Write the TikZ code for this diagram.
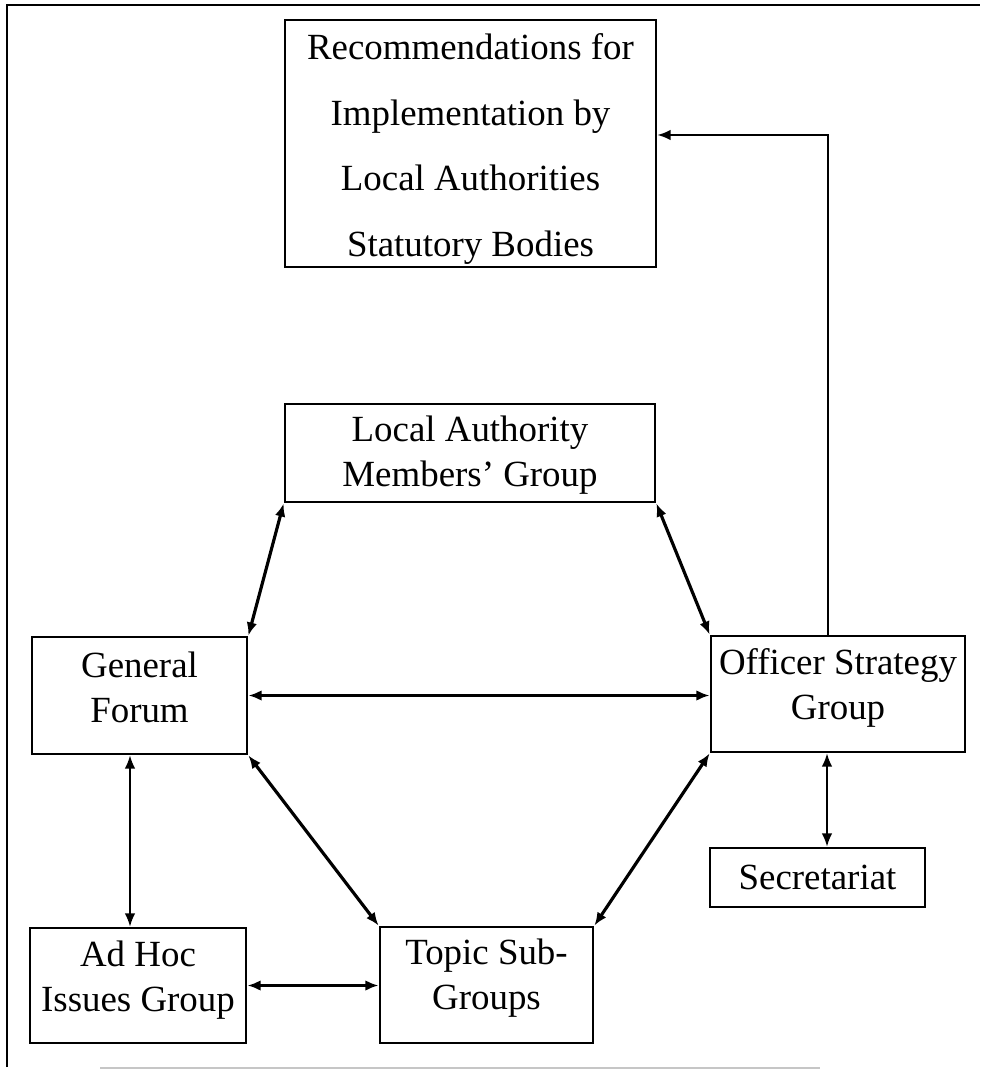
\documentclass[tikz,border=0pt]{standalone}
\usepackage{fontspec}
\setmainfont{Liberation Serif}
\usetikzlibrary{arrows.meta}
\begin{document}
\begin{tikzpicture}[x=0.02cm,y=-0.02cm,
  box/.style={draw,line width=1.6pt,inner sep=0pt},
  txt/.style={align=center,inner sep=0pt,font=\fontsize{21}{25.6}\selectfont},
  tip/.tip={Latex[length=7.5pt,width=6pt]},
  conn/.style={line width=1.8pt,tip-tip},
  thinconn/.style={line width=1pt,tip-tip},
  oneway/.style={line width=1.1pt,-tip}]
\useasboundingbox (0,0) rectangle (980,1070);
% outer frame
\draw[line width=1.4pt] (7,1067) -- (7,5) -- (980,5);
\draw[line width=1.4pt,gray!45] (100,1068) -- (820,1068);
% boxes
\node[box,minimum width=7.42cm,minimum height=4.94cm] (rec) at (470.5,143.5) {};
\node[box,minimum width=7.40cm,minimum height=1.96cm] (la) at (470,453) {};
\node[box,minimum width=4.30cm,minimum height=2.34cm] (gf) at (139.5,695.5) {};
\node[box,minimum width=5.08cm,minimum height=2.32cm] (os) at (838,694) {};
\node[box,minimum width=4.30cm,minimum height=1.18cm] (sec) at (817.5,877.5) {};
\node[box,minimum width=4.32cm,minimum height=2.30cm] (ah) at (138,985.5) {};
\node[box,minimum width=4.26cm,minimum height=2.32cm] (tsg) at (486.5,985) {};
% texts
\node[txt,font=\fontsize{21}{37.5}\selectfont] (rect) at (470.5,149) {Recommendations for\\Implementation by\\Local Authorities\\Statutory Bodies};
\node[txt] (lat) at (470,455.5) {Local Authority\\Members’ Group};
\node[txt] (gft) at (139.5,687.5) {General\\Forum};
\node[txt] (ost) at (838,687.5) {Officer Strategy\\Group};
\node[txt] (sect) at (817.5,877.5) {Secretariat};
\node[txt] (aht) at (138,980) {Ad Hoc\\Issues Group};
\node[txt] (tsgt) at (486.5,978.5) {Topic Sub-\\Groups};
% connectors
\coordinate (bend) at (828,135);
\draw[oneway] (os.north -| bend) -- (bend) -- (bend -| rec.east);
\draw[conn] (la.south west) -- (gf.north east);
\draw[conn] (la.south east) -- (os.north west);
\draw[conn] (gf.east) -- (gf.east -| os.west);
\draw[thinconn] (gf.south -| 130,0) -- (ah.north -| 130,0);
\draw[conn] (gf.south east) -- (tsg.north west);
\draw[conn] (os.south west) -- (tsg.north east);
\draw[conn] (ah.east) -- (ah.east -| tsg.west);
\draw[thinconn] (os.south -| 827,0) -- (sec.north -| 827,0);
\end{tikzpicture}
\end{document}
